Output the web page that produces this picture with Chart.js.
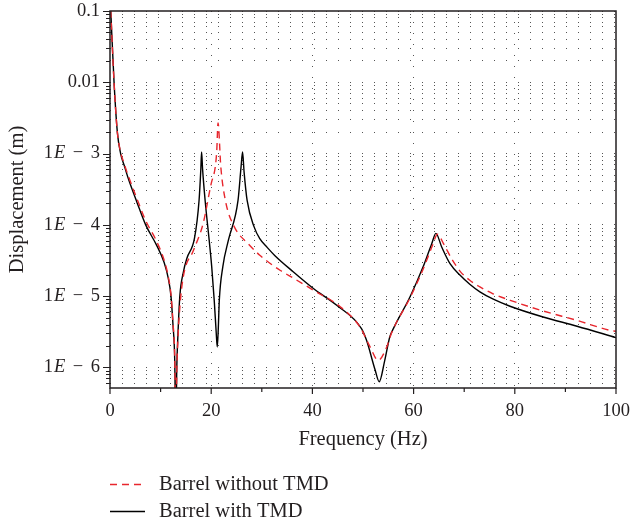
<!DOCTYPE html>
<html><head><meta charset="utf-8">
<script src="https://cdn.jsdelivr.net/npm/chart.js@4/dist/chart.umd.min.js"></script>
<style>html,body{margin:0;padding:0;background:#fff;} canvas{display:block;}</style>
</head><body>
<canvas id="c" width="631" height="529"></canvas>
<script>
// ---- data ----
const seriesLabels = ['Barrel without TMD', 'Barrel with TMD'];

const freqWithout = [0.15,0.8,1.45,2.1,2.8,3.6,5.3,7.05,9.2,10.7,11.5,12.05,12.45,12.8,13.0,13.2,13.4,13.8,14.5,16.5,18.4,20.0,20.8,21.1,21.35,21.9,22.8,24.6,27.3,29.6,31.2,33.6,36.6,40.2,45.5,49.4,51.4,53.0,54.7,55.6,59.3,62.0,63.8,64.7,65.9,67.5,69.2,71.1,73.1,75.7,79.1,85.6,92.2,98.8,100];
const dispWithout = [0.1,1.0e-2,2.0e-3,1.05e-3,7.2e-4,4.9e-4,2.35e-4,1.15e-4,5.9e-5,3.2e-5,1.9e-5,1.05e-5,4.2e-6,1.3e-6,1.0e-7,9.0e-7,2.3e-6,7.0e-6,1.9e-5,4.4e-5,1.04e-4,3.8e-4,6.5e-4,1.1e-3,2.7e-3,6.5e-4,2.2e-4,9.3e-5,5.43e-5,3.75e-5,3.04e-5,2.31e-5,1.73e-5,1.21e-5,7.1e-6,3.7e-6,1.94e-6,1.26e-6,1.94e-6,3.0e-6,9.5e-6,2.5e-5,5.3e-5,7.4e-5,5.47e-5,3.37e-5,2.23e-5,1.67e-5,1.35e-5,1.08e-5,8.75e-6,6.2e-6,4.59e-6,3.32e-6,3.22e-6];

const freqWith = [0.15,0.8,1.45,2.1,2.8,3.6,5.3,7.05,9.2,10.7,11.5,12.05,12.45,12.8,13.0,13.2,13.4,13.8,14.5,15.2,16.7,17.6,17.95,18.1,18.3,18.8,19.6,20.1,20.6,21.0,21.2,21.4,21.6,22.3,23.4,25.3,25.9,26.2,26.5,27.1,28.5,29.6,31.1,32.6,36.2,40.2,44.8,49.7,50.7,52.4,53.2,54.3,55.3,56.0,59.3,61.9,63.6,64.4,65.55,67.2,69.2,71.1,73.1,75.75,79.05,85.6,92.3,100];
const dispWith = [0.1,1.0e-2,2.0e-3,1.0e-3,6.85e-4,4.5e-4,2.1e-4,1.0e-4,5.2e-5,2.96e-5,1.8e-5,1.0e-5,3.9e-6,1.2e-6,1.0e-7,1.0e-6,2.6e-6,1.0e-5,2.18e-5,3.4e-5,6.5e-5,2.2e-4,6.0e-4,1.05e-3,6.0e-4,2.2e-4,6.1e-5,2.6e-5,8.7e-6,3.0e-6,1.94e-6,3.5e-6,8.7e-6,2.6e-5,6.1e-5,2.2e-4,6.5e-4,1.05e-3,5.5e-4,2.2e-4,9.3e-5,6.4e-5,4.8e-5,3.7e-5,2.2e-5,1.28e-5,7.45e-6,3.5e-6,2.4e-6,9.2e-7,6.3e-7,1.26e-6,2.7e-6,3.5e-6,9.8e-6,2.6e-5,5.5e-5,7.6e-5,4.9e-5,2.86e-5,1.96e-5,1.47e-5,1.15e-5,9.06e-6,7.22e-6,5.1e-6,3.79e-6,2.62e-6];

const xTickValues = [0,20,40,60,80,100];
const xTickLabels = ['0','20','40','60','80','100'];
const xMinorTicks = [10,30,50,70,90];
const yTickValues = [1e-6,1e-5,1e-4,1e-3,0.01,0.1];
const yTickLabels = ['1E − 6','1E − 5','1E − 4','1E − 3','0.01','0.1'];
const yMantissas = [1,2,3,4,5,6,7,8,9];
const yDecades = [1e-7,1e-6,1e-5,1e-4,1e-3,1e-2,1e-1];
const xTitle = 'Frequency (Hz)';
const yTitle = 'Displacement (m)';
const yMin = 5.15e-7, yMax = 0.1;

const SERIF = '"Liberation Serif", "Times New Roman", serif';
const INK = '#231f20';

function pts(xs, ys){ return xs.map((x,i)=>({x:x, y:ys[i]})); }

const allYTicks = [];
yDecades.forEach(d => yMantissas.forEach(m => {
  const v = +(m*d).toPrecision(3);
  if (v >= yMin*0.999 && v <= yMax*1.001) allYTicks.push(v);
}));

const framePlugin = {
  id: 'frame',
  afterDraw(chart) {
    const ctx = chart.ctx, a = chart.chartArea;
    const xs = chart.scales.x, ys = chart.scales.y;
    ctx.save();
    ctx.strokeStyle = INK; ctx.lineWidth = 1.5;
    ctx.strokeRect(a.left, a.top, a.right - a.left, a.bottom - a.top);
    ctx.lineWidth = 1.2;
    ctx.beginPath();
    xTickValues.forEach(v => { const p = xs.getPixelForValue(v); ctx.moveTo(p, a.bottom); ctx.lineTo(p, a.bottom + 6); });
    xMinorTicks.forEach(v => { const p = xs.getPixelForValue(v); ctx.moveTo(p, a.bottom); ctx.lineTo(p, a.bottom + 4); });
    ctx.stroke();
    ctx.beginPath();
    allYTicks.forEach(v => {
      const p = Math.round(ys.getPixelForValue(v)) + 0.5;
      const major = yTickValues.some(t => Math.abs(t - v) / v < 1e-6);
      ctx.moveTo(a.left, p); ctx.lineTo(a.left - (major ? 7 : 4), p);
    });
    ctx.stroke();
    // y tick labels, with an italic E and wide spacing around the minus sign
    ctx.fillStyle = INK; ctx.textBaseline = 'middle';
    const fN = '18.5px ' + SERIF, fI = 'italic 18.5px ' + SERIF;
    const GAP = 7.5;
    yTickValues.forEach((v, i) => {
      const p = ys.getPixelForValue(v);
      const lab = yTickLabels[i];
      const right = a.left - 10;
      const k = lab.indexOf('E');
      if (k < 0) {
        ctx.font = fN; ctx.textAlign = 'right'; ctx.fillText(lab, right, p);
      } else {
        const rest = lab.slice(k+1).trim().split(/\s+/);   // ['−', '3']
        const parts = [[lab.slice(0,k), fN, 1], ['E', fI, GAP], [rest[0], fN, GAP], [rest[1], fN, 0]];
        let w = 0;
        parts.forEach(pt => { ctx.font = pt[1]; w += ctx.measureText(pt[0]).width + pt[2]; });
        let x = right - w; ctx.textAlign = 'left';
        parts.forEach(pt => { ctx.font = pt[1]; ctx.fillText(pt[0], x, p); x += ctx.measureText(pt[0]).width + pt[2]; });
      }
    });
    // legend
    const ds = chart.data.datasets;
    ctx.font = '20.5px ' + SERIF; ctx.textAlign = 'left'; ctx.textBaseline = 'middle';
    const rows = [484.5, 511.5];
    ds.forEach((d, i) => {
      const y = rows[i];
      ctx.strokeStyle = d.borderColor; ctx.lineWidth = d.borderWidth;
      ctx.setLineDash(d.borderDash || []);
      ctx.beginPath(); ctx.moveTo(110, y); ctx.lineTo(145, y); ctx.stroke();
      ctx.setLineDash([]);
      ctx.fillStyle = INK; ctx.fillText(d.label, 159, y);
    });
    ctx.restore();
  }
};

new Chart(document.getElementById('c'), {
  type: 'line',
  data: {
    datasets: [
      { label: seriesLabels[0], data: pts(freqWithout, dispWithout), borderColor: '#e8262d', borderWidth: 1.4, borderDash: [7,5], pointRadius: 0, cubicInterpolationMode: 'monotone', fill: false },
      { label: seriesLabels[1], data: pts(freqWith, dispWith), borderColor: '#000000', borderWidth: 1.4, pointRadius: 0, cubicInterpolationMode: 'monotone', fill: false }
    ]
  },
  options: {
    responsive: false, animation: false, devicePixelRatio: 1,
    layout: { padding: { top: 11, right: 15, left: 0, bottom: 71 } },
    plugins: { legend: { display: false }, tooltip: { enabled: false } },
    scales: {
      x: {
        type: 'linear', position: 'bottom', min: 0, max: 100,
        afterBuildTicks: s => { s.ticks = xTickValues.map(v => ({ value: v })); },
        afterFit: s => { s.height = 70; s.paddingLeft = 0; s.paddingRight = 0; },
        ticks: { autoSkip: false, maxRotation: 0, padding: 12, color: INK, font: { family: SERIF, size: 18.5 },
                 callback: (v) => xTickLabels[xTickValues.indexOf(v)] },
        grid: { drawTicks: false, lineWidth: 1, color: (c) => (c.tick && (c.tick.value === 0 || c.tick.value === 100)) ? 'rgba(0,0,0,0)' : '#555' },
        border: { display: false, dash: [1, 10] },
        title: { display: true, text: xTitle, color: INK, font: { family: SERIF, size: 20.5 }, padding: { top: 0, bottom: 6 } }
      },
      y: {
        type: 'logarithmic', position: 'left', min: yMin, max: yMax,
        afterBuildTicks: s => { s.ticks = allYTicks.map(v => ({ value: v })); },
        afterFit: s => { s.width = 110; s.paddingTop = 0; s.paddingBottom = 0; },
        ticks: { display: false },
        grid: { drawTicks: false, lineWidth: 1, color: '#555' },
        border: { display: false, dash: [1, 11] },
        title: { display: true, text: yTitle, color: INK, font: { family: SERIF, size: 20.5 }, padding: { top: 5, bottom: 0 } }
      }
    }
  },
  plugins: [framePlugin]
});
</script>
</body></html>
